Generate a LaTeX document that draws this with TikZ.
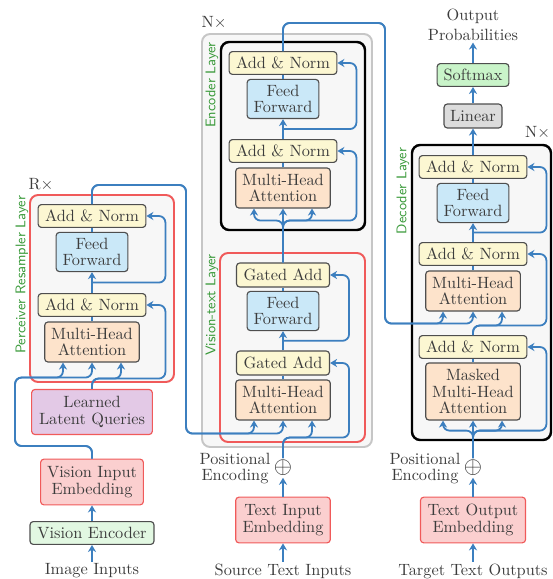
\documentclass[tikz,border=0pt]{standalone}
\usepackage{amsmath}
\usepackage{amssymb}
\usepackage{tikz}
\usetikzlibrary{arrows.meta,positioning,calc,fit}
\definecolor{LINEBLUE}{HTML}{3C7FBF}
\definecolor{EDGEGRAY}{HTML}{4E4E4E}
\definecolor{TEXTGRAY}{HTML}{3C3C3C}
\definecolor{LABELGREEN}{HTML}{3A9A3A}
\definecolor{YELLOWF}{HTML}{FCF7D2}
\definecolor{BLUEF}{HTML}{CAE8F8}
\definecolor{ORANGEF}{HTML}{FDE3CB}
\definecolor{REDF}{HTML}{FBCFCF}
\definecolor{REDB}{HTML}{F05A5A}
\definecolor{PURPLEF}{HTML}{E3C9E6}
\definecolor{GREENF}{HTML}{E2F8E2}
\definecolor{SOFTF}{HTML}{C9F4C9}
\definecolor{LINF}{HTML}{DCDCDC}
\definecolor{LAYERF}{HTML}{F7F7F7}
\definecolor{OUTERB}{HTML}{C6C6C6}
\tikzstyle{BLOCK} = [rectangle, draw=EDGEGRAY, line width=0.7pt, rounded corners=2pt, align=center, text=TEXTGRAY, inner sep=1pt, font=\fontsize{10}{10.2}\selectfont]
\tikzstyle{ADDNORM} = [BLOCK, fill=YELLOWF, minimum width=66pt, minimum height=14pt]
\tikzstyle{GATED} = [BLOCK, fill=YELLOWF, minimum width=57pt, minimum height=14.7pt]
\tikzstyle{FEEDFWD} = [BLOCK, fill=BLUEF, minimum width=44pt, minimum height=24pt]
\tikzstyle{ATTN} = [BLOCK, fill=ORANGEF, minimum width=58pt, minimum height=24.5pt]
\tikzstyle{EMBED} = [BLOCK, draw=REDB, fill=REDF, minimum height=28pt]
\tikzstyle{LAYERBOX} = [rectangle, rounded corners=5pt, fill=LAYERF, line width=1.2pt, inner sep=0pt]
\tikzstyle{ARROW} = [draw=LINEBLUE, line width=1.1pt, rounded corners=4pt, -{Stealth[length=4.3pt,width=5pt,inset=1.4pt]}]
\tikzstyle{LINE} = [draw=LINEBLUE, line width=1.1pt]
\tikzstyle{LABEL} = [text=TEXTGRAY, align=center, inner sep=1pt, font=\fontsize{10}{9.8}\selectfont]
\tikzstyle{PLUS} = [text=TEXTGRAY!80!black, inner sep=1pt, font=\fontsize{13.5}{14}\selectfont]
\tikzstyle{LAYERNAME} = [text=LABELGREEN, rotate=90, inner sep=0pt, font=\sffamily\fontsize{8.6}{10}\selectfont]
\begin{document}
\begin{tikzpicture}[x=0.613pt, y=-0.613pt]
\useasboundingbox (0,0) rectangle (552,579);
% Layers
\node [LAYERBOX, draw=REDB, fit={(30,195) (174,382)}] (PERCEIVER) {};
\node [LAYERBOX, draw=OUTERB, fit={(202,34) (372,447)}] (ENCSTACK) {};
\node [LAYERBOX, draw=black, line width=1.5pt, fit={(221,42) (365,230)}] (ENCODER) {};
\node [LAYERBOX, draw=REDB, fit={(220,253) (365,442)}] (VISTEXT) {};
\node [LAYERBOX, draw=black, line width=1.5pt, fit={(412,145) (551,440)}] (DECODER) {};
\node [LAYERNAME] (PERCNAME) at (22,275) {Perceiver Resampler Layer};
\node [LAYERNAME] (ENCNAME) at (212,85) {Encoder Layer};
\node [LAYERNAME] (VTNAME) at (212,305) {Vision-text Layer};
\node [LAYERNAME] (DECNAME) at (403,191) {Decoder Layer};
\node [LABEL] (RTIMES) at (41,185) {R$\times$};
\node [LABEL] (NTIMESENC) at (214,23) {N$\times$};
\node [LABEL, anchor=east] (NTIMESDEC) at (552,133) {N$\times$};
% Perceiver column
\node [ADDNORM] (PAN2) at (92,216) {Add \& Norm};
\node [FEEDFWD] (PFF) at (92,252) {Feed\\Forward};
\node [ADDNORM] (PAN1) at (92,305) {Add \& Norm};
\node [ATTN] (PMHA) at (92,342) {Multi-Head\\Attention};
\node [BLOCK, draw=REDB, fill=PURPLEF, minimum width=74pt, minimum height=27.6pt] (LLQ) at (92,412) {Learned\\Latent Queries};
\node [EMBED, minimum width=63pt] (VIE) at (92,482) {Vision Input\\Embedding};
\node [BLOCK, fill=GREENF, minimum width=76pt, minimum height=14pt] (VENC) at (92,533) {Vision Encoder};
\node [LABEL] (IMGIN) at (92,571) {Image Inputs};
% Encoder column
\node [ADDNORM] (EAN2) at (283,63) {Add \& Norm};
\node [FEEDFWD] (EFF) at (283,99) {Feed\\Forward};
\node [ADDNORM] (EAN1) at (283,151) {Add \& Norm};
\node [ATTN] (EMHA) at (283,188) {Multi-Head\\Attention};
\node [GATED] (VGA2) at (283,275) {Gated Add};
\node [FEEDFWD] (VFF) at (283,311) {Feed\\Forward};
\node [GATED] (VGA1) at (283,363) {Gated Add};
\node [ATTN] (VMHA) at (283,400) {Multi-Head\\Attention};
\node [LABEL] (PEENC) at (235,469) {Positional\\Encoding};
\node [PLUS] (PLUSENC) at (283,468) {$\oplus$};
\node [EMBED, minimum width=58pt] (TIE) at (283,520) {Text Input\\Embedding};
\node [LABEL] (SRCIN) at (283,571) {Source Text Inputs};
% Decoder column
\node [LABEL, font=\fontsize{10}{12}\selectfont] (OUTPROB) at (473,25) {Output\\Probabilities};
\node [BLOCK, fill=SOFTF, minimum width=44pt, minimum height=14pt] (SOFT) at (473,75) {Softmax};
\node [BLOCK, fill=LINF, minimum width=35.5pt, minimum height=14.7pt] (LIN) at (473,116) {Linear};
\node [ADDNORM] (DAN3) at (473,167) {Add \& Norm};
\node [FEEDFWD] (DFF) at (473,203) {Feed\\Forward};
\node [ADDNORM] (DAN2) at (473,254) {Add \& Norm};
\node [ATTN] (DMHA) at (473,291) {Multi-Head\\Attention};
\node [ADDNORM] (DAN1) at (473,347) {Add \& Norm};
\node [ATTN, minimum height=35pt] (DMMHA) at (473,391.5) {Masked\\Multi-Head\\Attention};
\node [LABEL] (PEDEC) at (425,469) {Positional\\Encoding};
\node [PLUS] (PLUSDEC) at (473,468) {$\oplus$};
\node [EMBED, minimum width=64.4pt] (TOE) at (473,520) {Text Output\\Embedding};
\node [LABEL] (TGTOUT) at (473,571) {Target Text Outputs};
% bends
\coordinate (VISBEND) at (15,446);
\coordinate (PERCOUT) at (186,185);
\coordinate (ENCOUT) at (385,23);
% Perceiver lines
\path [ARROW] (IMGIN) -- (VENC);
\path [ARROW] (VENC) -- (VIE);
\path [ARROW] (VIE.north) |- (VISBEND) |- ($(PMHA.south)+(-29,15)$) -- ($(PMHA.south)+(-29,0)$);
\path [ARROW] (VIE.north) |- (VISBEND) |- ($(PMHA.south)+(0,15)$) -- (PMHA.south);
\path [ARROW] (LLQ.north) |- ($(PMHA.south)+(29,16)$) -- ($(PMHA.south)+(29,0)$);
\path [ARROW] (LLQ.north) |- ($(PAN1.east |- PMHA.south)+(19,16)$) |- (PAN1.east);
\path [LINE] (PMHA) -- (PAN1);
\path [ARROW] (PAN1) -- (PFF);
\path [ARROW] ($(PAN1.north)!0.5!(PFF.south)$) -| ($(PAN2.east)+(19,0)$) -- (PAN2.east);
\path [LINE] (PFF) -- (PAN2);
\path [ARROW] (PAN2.north) |- (PERCOUT) |- ($(VMHA.south)+(-29,13)$) -- ($(VMHA.south)+(-29,0)$);
\path [ARROW] (PAN2.north) |- (PERCOUT) |- ($(VMHA.south)+(0,13)$) -- (VMHA.south);
% Vision-text and encoder lines
\path [ARROW] (SRCIN) -- (TIE);
\path [ARROW] (TIE) -- (PLUSENC);
\path [ARROW] (PLUSENC.north) |- ($(VMHA.south)+(29,17)$) -- ($(VMHA.south)+(29,0)$);
\path [ARROW] (PLUSENC.north) |- ($(VGA1.east |- VMHA.south)+(19,17)$) |- (VGA1.east);
\path [LINE] (VMHA) -- (VGA1);
\path [ARROW] (VGA1) -- (VFF);
\path [ARROW] ($(VGA1.north)!0.5!(VFF.south)$) -| ($(VGA2.east)+(19,0)$) -- (VGA2.east);
\path [LINE] (VFF) -- (VGA2);
\path [ARROW] (VGA2) -- (EMHA);
\path [ARROW] (VGA2.north) |- ($(EMHA.south)+(-29,12)$) -- ($(EMHA.south)+(-29,0)$);
\path [ARROW] (VGA2.north) |- ($(EMHA.south)+(29,12)$) -- ($(EMHA.south)+(29,0)$);
\path [ARROW] (VGA2.north) |- ($(EAN1.east |- EMHA.south)+(19,12)$) |- (EAN1.east);
\path [LINE] (EMHA) -- (EAN1);
\path [ARROW] (EAN1) -- (EFF);
\path [ARROW] ($(EAN1.north)!0.5!(EFF.south)$) -| ($(EAN2.east)+(19,0)$) -- (EAN2.east);
\path [LINE] (EFF) -- (EAN2);
\path [ARROW] (EAN2.north) |- (ENCOUT) |- ($(DMHA.south)+(-30,12)$) -- ($(DMHA.south)+(-30,0)$);
\path [ARROW] (EAN2.north) |- (ENCOUT) |- ($(DMHA.south)+(0,12)$) -- (DMHA.south);
% Decoder lines
\path [ARROW] (TGTOUT) -- (TOE);
\path [ARROW] (TOE) -- (PLUSDEC);
\path [ARROW] (PLUSDEC) -- (DMMHA);
\path [ARROW] (PLUSDEC.north) |- ($(DMMHA.south)+(-30,10)$) -- ($(DMMHA.south)+(-30,0)$);
\path [ARROW] (PLUSDEC.north) |- ($(DMMHA.south)+(29,10)$) -- ($(DMMHA.south)+(29,0)$);
\path [ARROW] (PLUSDEC.north) |- ($(DAN1.east |- DMMHA.south)+(19,10)$) |- (DAN1.east);
\path [LINE] (DMMHA) -- (DAN1);
\path [ARROW] (DAN1.north) |- ($(DMHA.south)+(29,14)$) -- ($(DMHA.south)+(29,0)$);
\path [ARROW] (DAN1.north) |- ($(DAN2.east |- DMHA.south)+(19,14)$) |- (DAN2.east);
\path [LINE] (DMHA) -- (DAN2);
\path [ARROW] (DAN2) -- (DFF);
\path [ARROW] ($(DAN2.north)!0.5!(DFF.south)$) -| ($(DAN3.east)+(19,0)$) -- (DAN3.east);
\path [LINE] (DFF) -- (DAN3);
\path [ARROW] (DAN3) -- (LIN);
\path [ARROW] (LIN) -- (SOFT);
\path [ARROW] (SOFT) -- (OUTPROB);
\end{tikzpicture}
\end{document}
